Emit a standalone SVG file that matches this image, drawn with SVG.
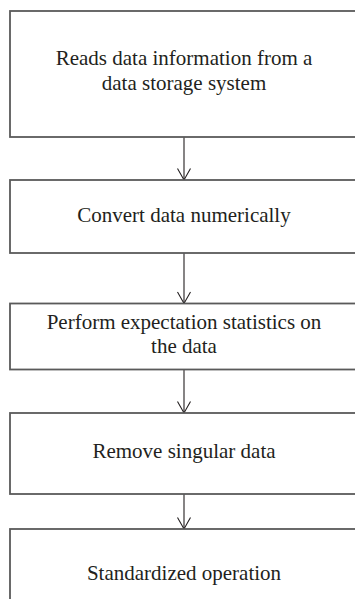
<svg xmlns="http://www.w3.org/2000/svg" width="355" height="599" viewBox="0 0 355 599">
  <style>
    .box { fill: #ffffff; stroke: #5a5a5a; stroke-width: 1.8; }
    .label { font-family: "Liberation Serif", "Times New Roman", serif; font-size: 21px; fill: #231f20; text-anchor: middle; }
    .conn { stroke: #231f20; stroke-width: 1.1; fill: none; }
  </style>
  <defs>
    <marker id="arrow" viewBox="0 0 14 12" refX="7" refY="11.5" markerWidth="14" markerHeight="12" markerUnits="userSpaceOnUse" orient="auto-start-reverse">
      <path d="M0.5,0.5 L7,11.5 L13.5,0.5" fill="none" stroke="#231f20" stroke-width="1.1"/>
    </marker>
  </defs>
  <rect width="355" height="599" fill="#ffffff"/>

  <g id="connectors">
    <line class="conn" x1="184" y1="137" x2="184" y2="180"/>
    <path class="conn" d="M177.5,168.5 L184,180 L190.5,168.5"/>
    <line class="conn" x1="184" y1="253" x2="184" y2="303.5"/>
    <path class="conn" d="M177.5,292 L184,303.5 L190.5,292"/>
    <line class="conn" x1="184" y1="369.5" x2="184" y2="413"/>
    <path class="conn" d="M177.5,401.5 L184,413 L190.5,401.5"/>
    <line class="conn" x1="184" y1="494" x2="184" y2="529"/>
    <path class="conn" d="M177.5,517.5 L184,529 L190.5,517.5"/>
  </g>

  <g id="read-data">
    <rect class="box" x="10" y="11" width="350" height="126"/>
    <text class="label" x="184" y="65">Reads data information from a</text>
    <text class="label" x="184" y="90">data storage system</text>
  </g>

  <g id="convert-numeric">
    <rect class="box" x="10" y="180" width="350" height="73"/>
    <text class="label" x="184" y="222">Convert data numerically</text>
  </g>

  <g id="expectation-stats">
    <rect class="box" x="10" y="303.5" width="350" height="66"/>
    <text class="label" x="184" y="329">Perform expectation statistics on</text>
    <text class="label" x="184" y="353">the data</text>
  </g>

  <g id="remove-singular">
    <rect class="box" x="10" y="413" width="350" height="81"/>
    <text class="label" x="184" y="458">Remove singular data</text>
  </g>

  <g id="standardize">
    <rect class="box" x="10" y="529" width="350" height="80"/>
    <text class="label" x="184" y="580">Standardized operation</text>
  </g>
</svg>
